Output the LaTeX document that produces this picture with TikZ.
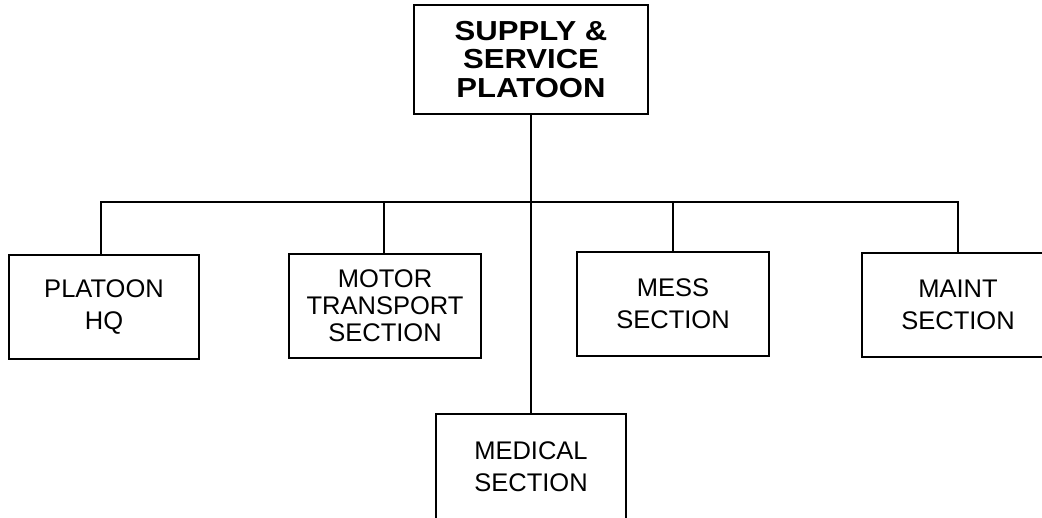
\documentclass[tikz,border=0pt]{standalone}
\usepackage{fontspec}
\setmainfont{Liberation Sans}
\newfontfamily\widesans[FakeStretch=1.13]{Liberation Sans}
\begin{document}
\begin{tikzpicture}[x=1pt,y=1pt,
  box/.style={draw, line width=2pt, inner sep=0pt, align=center,
    font=\fontsize{25.5}{32}\selectfont},
  conn/.style={line width=2pt}]
\clip (0,0) rectangle (1042,-517);
\node[box, minimum width=234, minimum height=109,
  font=\widesans\bfseries\fontsize{27.5}{28.8}\selectfont] (top) at (531,-59.5)
  {SUPPLY \&\\SERVICE\\PLATOON};
\node[box, minimum width=190, minimum height=104] (hq) at (104,-307) {PLATOON\\HQ};
\node[box, minimum width=192, minimum height=104,
  font=\fontsize{25.5}{27}\selectfont] (motor) at (385,-306) {MOTOR\\TRANSPORT\\SECTION};
\node[box, minimum width=192, minimum height=104] (mess) at (673,-304) {MESS\\SECTION};
\node[box, minimum width=192, minimum height=104] (maint) at (958,-305) {MAINT\\SECTION};
\node[box, minimum width=190, minimum height=106] (med) at (531,-467) {MEDICAL\\SECTION};
\coordinate (bar) at (531,-202);
\draw[conn] (top.south) -- (med.north);
\draw[conn] ([xshift=-3pt]hq.north) -- ([xshift=-3pt]hq.north |- bar) -- (maint.north |- bar) -- (maint.north);
\draw[conn] ([xshift=-1pt]motor.north) -- ([xshift=-1pt]motor.north |- bar);
\draw[conn] (mess.north) -- (mess.north |- bar);
\end{tikzpicture}
\end{document}
